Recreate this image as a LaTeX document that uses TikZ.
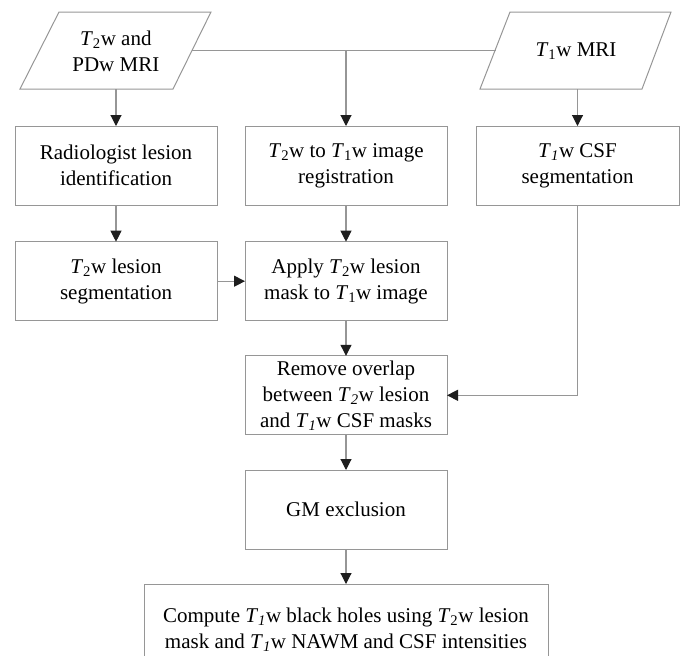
\documentclass[tikz,border=0pt]{standalone}
\usepackage{fontspec}
\setmainfont{Liberation Serif}
\usetikzlibrary{arrows.meta}
\definecolor{ln}{RGB}{150,150,150}
\definecolor{tip}{RGB}{30,30,30}
\newcommand{\Tt}{\textit{T}\textsubscript{2}}
\newcommand{\To}{\textit{T}\textsubscript{1}}
\newcommand{\Ti}{\textit{T}\textsubscript{\textit{1}}}
\begin{document}
\begin{tikzpicture}[x=1pt,y=-1pt,
  font=\fontsize{21}{26}\selectfont,
  box/.style={draw=ln, line width=1pt, align=center, inner sep=0pt, outer sep=0pt,
              minimum width=202pt, minimum height=79pt},
  para/.style={draw=ln, line width=1pt},
  arr/.style={draw=ln, line width=1.1pt, -{Triangle[length=11pt,width=11pt,color=tip]}},
  con/.style={draw=ln, line width=1.1pt}]
\useasboundingbox (0,0) rectangle (683,656);
\clip (0,0) rectangle (683,656);

% input parallelograms
\draw[para] (59,12) -- (211,12) -- (173,89) -- (20,89) -- cycle;
\node[align=center, inner sep=0pt] (in1) at (115.8,51) {\Tt w and\\PDw MRI};
\draw[para] (510,12) -- (671,12) -- (642,89) -- (480,89) -- cycle;
\node[inner sep=0pt] (in2) at (576,51) {\To w MRI};

% process boxes
\node[box] (rad) at (116,165.5) {Radiologist lesion\\identification};
\node[box] (reg) at (346,165.5) {\Tt w to \To w image\\registration};
\node[box, minimum width=203pt] (csf) at (577.5,165.5) {\Ti w CSF\\segmentation};
\node[box] (seg) at (116,281.2) {\Tt w lesion\\segmentation};
\node[box] (app) at (346,281.2) {Apply \Tt w lesion\\mask to \To w image};
\node[box] (rem) at (346,395.3) {Remove overlap\\between \textit{T}\textsubscript{\textit{2}}w lesion\\and \Ti w CSF masks};
\node[box] (gm) at (346,509.5) {GM exclusion};
\node[box, minimum width=404pt, minimum height=80pt, text depth=0pt] (cmp) at (346,624) {\raisebox{9pt}{\begin{tabular}{@{}c@{}}Compute \Ti w black holes using \Tt w lesion\\mask and \Ti w NAWM and CSF intensities\end{tabular}}};

% connector end points on the parallelograms
\coordinate (p1e) at (192,50.7);
\coordinate (p2w) at (496,50.7);
\coordinate (jn) at (346,50.7);
\coordinate (p1s) at (116,89);
\coordinate (p2s) at (577.5,89);

\draw[con] (p1e) -- (p2w);
\draw[arr] (jn) -- (reg);
\draw[arr] (p1s) -- (rad);
\draw[arr] (p2s) -- (csf);
\draw[arr] (rad) -- (seg);
\draw[arr] (reg) -- (app);
\draw[arr] (seg) -- (app);
\draw[arr] (app) -- (rem);
\draw[arr] (csf.south) |- (rem.east);
\draw[arr] (rem) -- (gm);
\draw[arr] (gm) -- (cmp);
\end{tikzpicture}
\end{document}
